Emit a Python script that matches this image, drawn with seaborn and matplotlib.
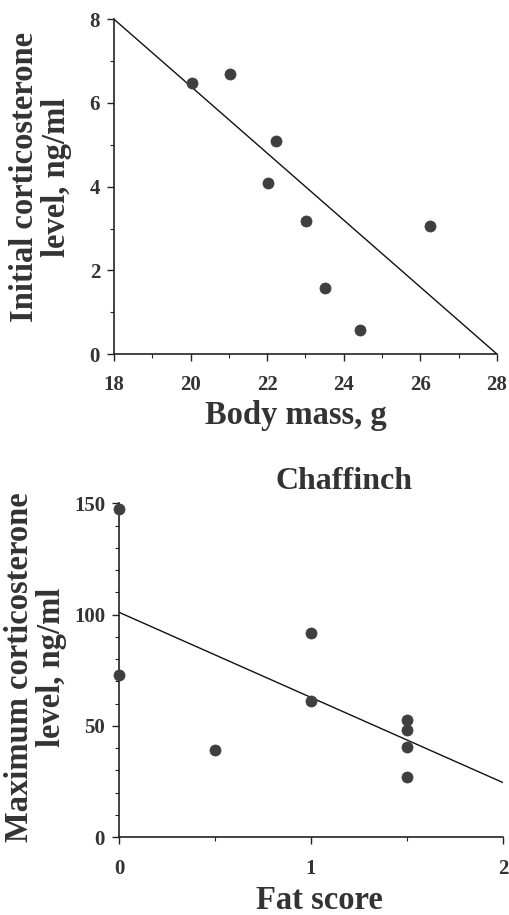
import matplotlib
matplotlib.use("Agg")
import matplotlib.pyplot as plt
import seaborn as sns
import pandas as pd
from matplotlib.ticker import MultipleLocator

# ---- data ----
body_mass = [20.03, 21.04, 22.23, 22.01, 23.01, 23.5, 24.42, 26.26]
initial_cort = [6.48, 6.70, 5.09, 4.09, 3.19, 1.58, 0.58, 3.06]
fit1_x = [18, 28]
fit1_y = [8, 0]

fat_score = [0.0, 0.0, 0.5, 1.0, 1.0, 1.5, 1.5, 1.5, 1.5]
max_cort = [147.5, 73.0, 39.0, 91.5, 61.0, 52.5, 48.0, 40.5, 27.0]
fit2_x = [0, 2]
fit2_y = [101, 24.5]

x1_ticks = [18, 20, 22, 24, 26, 28]
y1_ticks = [0, 2, 4, 6, 8]
x2_ticks = [0, 1, 2]
y2_ticks = [0, 50, 100, 150]

sns.set_theme(style="ticks")
plt.rcParams['font.family'] = ['Liberation Serif', 'DejaVu Serif']
plt.rcParams['font.weight'] = 'bold'

TXT = '#333333'
PT = '#3f3f3f'

fig = plt.figure(figsize=(5.10, 9.15), dpi=100)
ax1 = fig.add_axes([0.2235, 0.613, 0.751, 0.366])
ax2 = fig.add_axes([0.2333, 0.0852, 0.7527, 0.3648])

df1 = pd.DataFrame({'x': body_mass, 'y': initial_cort})
df2 = pd.DataFrame({'x': fat_score, 'y': max_cort})
f1 = pd.DataFrame({'x': fit1_x, 'y': fit1_y})
f2 = pd.DataFrame({'x': fit2_x, 'y': fit2_y})

sns.lineplot(data=f1, x='x', y='y', ax=ax1, color='#111111', lw=1.0)
sns.scatterplot(data=df1, x='x', y='y', ax=ax1, color=PT, s=64,
                edgecolor=PT, linewidth=0.5, zorder=3, clip_on=False)
sns.lineplot(data=f2, x='x', y='y', ax=ax2, color='#111111', lw=1.0)
sns.scatterplot(data=df2, x='x', y='y', ax=ax2, color=PT, s=64,
                edgecolor=PT, linewidth=0.5, zorder=3, clip_on=False)

for ax in (ax1, ax2):
    sns.despine(ax=ax)
    for s in ('left', 'bottom'):
        ax.spines[s].set_color('#222222')
        ax.spines[s].set_linewidth(1.2)
    ax.tick_params(which='major', direction='out', length=5, width=1.0,
                   color='#222222', labelsize=15, labelcolor=TXT, pad=5)
    ax.tick_params(which='minor', direction='out', length=3, width=0.8,
                   color='#222222')

ax1.set_xlim(18, 28)
ax1.set_ylim(0, 8)
ax1.set_xticks(x1_ticks)
ax1.set_yticks(y1_ticks)
ax1.xaxis.set_minor_locator(MultipleLocator(1))
ax1.yaxis.set_minor_locator(MultipleLocator(1))
ax1.tick_params(axis='x', pad=10)

ax2.set_xlim(0, 2)
ax2.set_ylim(0, 150)
ax2.set_xticks(x2_ticks)
ax2.set_yticks(y2_ticks)
ax2.xaxis.set_minor_locator(MultipleLocator(0.5))
ax2.yaxis.set_minor_locator(MultipleLocator(10))
ax2.tick_params(axis='x', pad=11)

for ax in (ax1, ax2):
    for lab in ax.get_xticklabels() + ax.get_yticklabels():
        lab.set_fontweight('bold')

lab_kw = dict(fontsize=23.5, fontweight='bold', color=TXT)
ax1.set_xlabel('Body mass, g', **lab_kw)
ax1.set_ylabel('Initial corticosterone\nlevel, ng/ml', linespacing=1.05, **lab_kw)
ax2.set_xlabel('Fat score', **lab_kw)
ax2.set_ylabel('Maximum corticosterone\nlevel, ng/ml', linespacing=1.05, **lab_kw)

ax1.xaxis.set_label_coords(0.475, -0.138)
ax1.yaxis.set_label_coords(-0.110, 0.528)
ax2.xaxis.set_label_coords(0.523, -0.145)
ax2.yaxis.set_label_coords(-0.135, 0.509)

fig.text(344/510, 1 - 482/915, 'Chaffinch', ha='center', va='center',
         fontsize=23, fontweight='bold', color=TXT)

fig.savefig('out.png', dpi=100)
